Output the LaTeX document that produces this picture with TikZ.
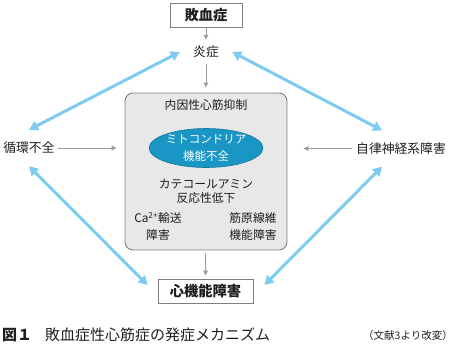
\documentclass[tikz,border=0pt]{standalone}
\usepackage{fontspec}
\setmainfont{Noto Sans CJK JP}
\usetikzlibrary{arrows.meta,shapes.geometric,calc}
\definecolor{blueline}{HTML}{7DCCEF}
\definecolor{ellfill}{HTML}{1A96C4}
\definecolor{elledge}{HTML}{14789E}
\definecolor{grayarr}{HTML}{9B9B9B}
\definecolor{boxgray}{HTML}{E8E8E8}
\definecolor{boxedge}{HTML}{7F7F7F}
\definecolor{txtcol}{HTML}{1E1E1E}
\begin{document}
\begin{tikzpicture}[x=1pt,y=-1pt,
  txt/.style={inner sep=0pt,align=center,text=txtcol,font=\fontsize{12.8}{15}\selectfont},
  intxt/.style={inner sep=0pt,align=center,text=txtcol,font=\fontsize{11.8}{14.5}\selectfont},
  wbox/.style={draw=boxedge,line width=0.9pt,fill=white,inner sep=0pt,text=txtcol,font=\bfseries\fontsize{14.3}{16}\selectfont},
  bigbox/.style={draw=boxedge,line width=0.9pt,fill=boxgray,rounded corners=8pt,minimum width=162pt,minimum height=157pt,inner sep=0pt},
  ell/.style={ellipse,draw=elledge,line width=0.6pt,fill=ellfill,text=white,minimum width=105pt,minimum height=39pt,inner sep=0pt,align=center,font=\fontsize{11.5}{17}\selectfont},
  garrow/.style={draw=grayarr,line width=1pt,-{Triangle[length=5pt,width=4.5pt]}},
  barrow/.style={draw=blueline,line width=3pt,{Triangle[length=9pt,width=10pt]}-{Triangle[length=9pt,width=10pt]}}
]
\useasboundingbox (0,0) rectangle (454,349);

% boxes and texts
\node[wbox,minimum width=72pt,minimum height=24pt] (sepsis) at (206,15) {敗血症};
\node[txt,minimum width=52pt,minimum height=24pt] (ensho) at (206,52) {炎症};
\node[bigbox] (mbox) at (206,171.5) {};
\node[intxt] (naiin) at (206,105) {内因性心筋抑制};
\node[ell] (mito) at (206,148) {ミトコンドリア\\機能不全};
\node[intxt] (cate) at (206,191.5) {カテコールアミン\\反応性低下};
\node[intxt,font=\fontsize{11.8}{17}\selectfont] (ca) at (158,226.5) {Ca\textsuperscript{2+}輸送\\障害};
\node[intxt,font=\fontsize{11.8}{17}\selectfont] (kin) at (253,226.5) {筋原線維\\機能障害};
\node[wbox,minimum width=95pt,minimum height=24pt] (heart) at (205.5,291) {心機能障害};
\node[txt,minimum height=36pt] (junkan) at (29,148) {循環不全};
\node[txt,minimum height=36pt] (jiritsu) at (401,148.5) {自律神経系障害};

% gray arrows
\draw[garrow] (sepsis) -- (ensho);
\draw[garrow,shorten >=5pt] (ensho) -- (mbox);
\draw[garrow,shorten <=3pt,shorten >=3pt] (mbox) -- (heart);
\draw[garrow,shorten <=3pt,shorten >=8pt] (junkan.east) -- (junkan.east -| mbox.west);
\draw[garrow,shorten <=4pt,shorten >=16pt] (jiritsu.west) -- (jiritsu.west -| mbox.east);

% blue double arrows
\draw[barrow] (ensho.west) -- (junkan.north);
\draw[barrow] (ensho.east) -- ([xshift=-19pt]jiritsu.north);
\draw[barrow] (junkan.south) -- ([xshift=-10pt,yshift=6pt]heart.west);
\draw[barrow] ([xshift=-19pt]jiritsu.south) -- ([xshift=11pt,yshift=6pt]heart.east);

% caption
\node[anchor=west,inner sep=0pt,text=txtcol,font=\bfseries\fontsize{15}{15}\selectfont] (fig) at (2,335) {図１};
\node[anchor=west,inner sep=0pt,text=txtcol,font=\fontsize{15}{15}\selectfont] (cap) at (45,335) {敗血症性心筋症の発症メカニズム};
\node[anchor=east,inner sep=0pt,text=txtcol,font=\fontsize{10.5}{12}\selectfont] (ref) at (453,335) {（文献3より改変）};
\end{tikzpicture}
\end{document}
